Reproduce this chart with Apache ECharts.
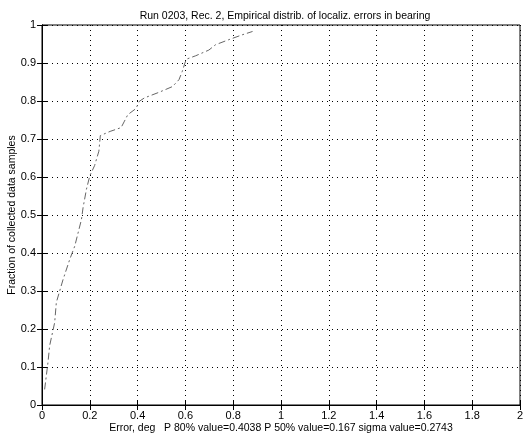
<!DOCTYPE html>
<html>
<head>
<meta charset="utf-8">
<script src="https://cdn.jsdelivr.net/npm/echarts@6/dist/echarts.min.js"></script>
<style>
  html, body { margin: 0; padding: 0; background: #fff; }
  #chart { width: 523px; height: 441px; }
</style>
</head>
<body>
<div id="chart"></div>
<script>
// empirical CDF of bearing errors
var errDeg = [0.011, 0.025, 0.032, 0.053, 0.06, 0.088, 0.116, 0.137, 0.165, 0.172, 0.186, 0.2, 0.22, 0.238, 0.244,
    0.285, 0.331, 0.345, 0.359, 0.393, 0.407, 0.428, 0.49, 0.546, 0.573, 0.587, 0.598, 0.604,
    0.643, 0.698, 0.726, 0.78, 0.837, 0.881];
var fraction = [0.041, 0.112, 0.156, 0.217, 0.27, 0.33, 0.383, 0.418, 0.488, 0.52, 0.568, 0.603, 0.63, 0.668, 0.709,
    0.72, 0.73, 0.747, 0.764, 0.78, 0.799, 0.808, 0.823, 0.838, 0.856, 0.878, 0.9, 0.91,
    0.919, 0.934, 0.948, 0.961, 0.974, 0.983];
var titleText = 'Run 0203, Rec. 2, Empirical distrib. of localiz. errors in bearing';
var xName = 'Error, deg   P 80% value=0.4038 P 50% value=0.167 sigma value=0.2743';
var yName = 'Fraction of collected data samples';

var pts = [];
for (var i = 0; i < errDeg.length; i++) {
    pts.push([errDeg[i], fraction[i]]);
}

var font = 'Liberation Sans, Arial, sans-serif';
var chart = echarts.init(document.getElementById('chart'));

function fmt(v) {
    return String(Math.round(v * 10) / 10);
}

chart.setOption({
    animation: false,
    backgroundColor: '#fff',
    title: {
        text: titleText,
        left: 280, top: 6, textAlign: 'center',
        textStyle: { fontFamily: font, fontSize: 10.5, fontWeight: 'normal', color: '#000' }
    },
    grid: {
        left: 42, right: 3, top: 25, bottom: 36,
        containLabel: false, outerBoundsMode: 'none',
        show: true, borderColor: '#000', borderWidth: 1
    },
    xAxis: [{
        type: 'value', min: 0, max: 2, interval: 0.2,
        name: xName, nameLocation: 'middle', nameGap: 18, nameMoveOverlap: false,
        nameTextStyle: { fontFamily: font, fontSize: 10.5, color: '#000' },
        axisLine: { lineStyle: { color: '#000' } },
        axisTick: { inside: true, length: 5, lineStyle: { color: '#000' } },
        axisLabel: { fontFamily: font, fontSize: 11, color: '#000', margin: 5, formatter: fmt },
        splitLine: { show: true, lineStyle: { color: '#000', type: [1, 4], width: 1 } }
    }, {
        type: 'value', min: 0, max: 2, interval: 0.2, position: 'top',
        axisLine: { lineStyle: { color: '#000' } },
        axisTick: { inside: true, length: 5, lineStyle: { color: '#000' } },
        axisLabel: { show: false }, splitLine: { show: false }
    }],
    yAxis: [{
        type: 'value', min: 0, max: 1, interval: 0.1,
        name: yName, nameLocation: 'middle', nameGap: 24, nameMoveOverlap: false,
        nameTextStyle: { fontFamily: font, fontSize: 10.5, color: '#000' },
        axisLine: { show: true, lineStyle: { color: '#000' } },
        axisTick: { show: true, inside: true, length: 5, lineStyle: { color: '#000' } },
        axisLabel: { fontFamily: font, fontSize: 11, color: '#000', margin: 6, formatter: fmt },
        splitLine: { show: true, lineStyle: { color: '#000', type: [1, 4], width: 1 } }
    }, {
        type: 'value', min: 0, max: 1, interval: 0.1, position: 'right',
        axisLine: { show: true, lineStyle: { color: '#000' } },
        axisTick: { show: true, inside: true, length: 5, lineStyle: { color: '#000' } },
        axisLabel: { show: false }, splitLine: { show: false }
    }],
    series: [{
        type: 'line',
        data: pts,
        showSymbol: false,
        lineStyle: { color: '#666', width: 1, type: [7, 3, 2, 3] }
    }]
});
</script>
</body>
</html>
